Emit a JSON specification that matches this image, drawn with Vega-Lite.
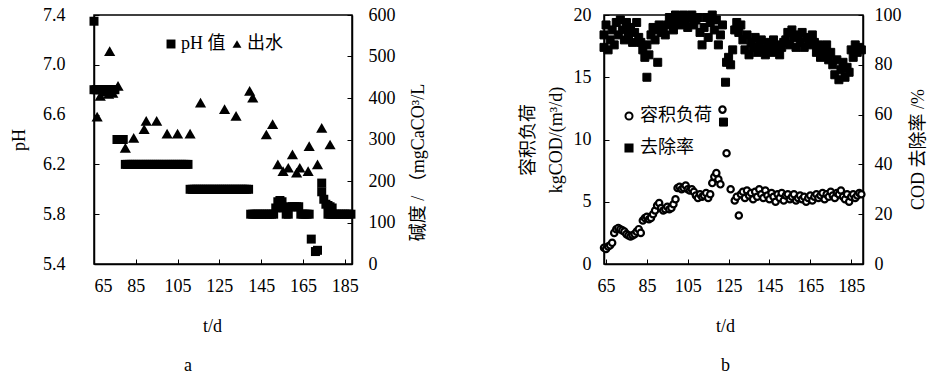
{
  "$schema": "https://vega.github.io/schema/vega-lite/v6.json",
  "background": "white",
  "padding": {"left": 9, "top": 5, "right": 0, "bottom": 0},
  "spacing": 90,
  "resolve": {"scale": {"shape": "independent", "fill": "independent"}, "legend": {"shape": "independent", "fill": "independent"}},
  "config": {
    "font": "Liberation Serif, Noto Sans CJK SC",
    "view": {"stroke": "black", "strokeWidth": 1.5},
    "axis": {
      "grid": false,
      "domainColor": "black",
      "domainWidth": 1.5,
      "tickColor": "black",
      "tickSize": -5,
      "tickWidth": 1,
      "labelFont": "Liberation Serif",
      "labelFontSize": 18,
      "labelColor": "black",
      "titleFont": "Liberation Serif, Noto Sans CJK SC",
      "titleFontSize": 18,
      "titleFontWeight": "normal",
      "titleColor": "black"
    },
    "legend": {
      "labelFont": "Liberation Serif, Noto Sans CJK SC",
      "labelFontSize": 18,
      "labelColor": "black"
    },
    "title": {"font": "Liberation Serif", "fontSize": 18, "fontWeight": "normal", "color": "black"}
  },
  "datasets": {
    "ph": [
      {"t": 65, "v": 7.35, "s": "pH 值"},
      {"t": 65, "v": 6.8, "s": "pH 值"}, {"t": 66, "v": 6.8, "s": "pH 值"}, {"t": 67, "v": 6.8, "s": "pH 值"}, {"t": 68, "v": 6.8, "s": "pH 值"}, {"t": 69, "v": 6.8, "s": "pH 值"}, {"t": 70, "v": 6.8, "s": "pH 值"}, {"t": 71, "v": 6.8, "s": "pH 值"}, {"t": 72, "v": 6.8, "s": "pH 值"}, {"t": 73, "v": 6.8, "s": "pH 值"}, {"t": 74, "v": 6.8, "s": "pH 值"}, {"t": 75, "v": 6.8, "s": "pH 值"},
      {"t": 76, "v": 6.4, "s": "pH 值"}, {"t": 77, "v": 6.4, "s": "pH 值"}, {"t": 78, "v": 6.4, "s": "pH 值"}, {"t": 79, "v": 6.4, "s": "pH 值"},
      {"t": 80, "v": 6.2, "s": "pH 值"}, {"t": 81, "v": 6.2, "s": "pH 值"}, {"t": 82, "v": 6.2, "s": "pH 值"}, {"t": 83, "v": 6.2, "s": "pH 值"}, {"t": 84, "v": 6.2, "s": "pH 值"}, {"t": 85, "v": 6.2, "s": "pH 值"}, {"t": 86, "v": 6.2, "s": "pH 值"}, {"t": 87, "v": 6.2, "s": "pH 值"}, {"t": 88, "v": 6.2, "s": "pH 值"}, {"t": 89, "v": 6.2, "s": "pH 值"}, {"t": 90, "v": 6.2, "s": "pH 值"}, {"t": 91, "v": 6.2, "s": "pH 值"}, {"t": 92, "v": 6.2, "s": "pH 值"}, {"t": 93, "v": 6.2, "s": "pH 值"}, {"t": 94, "v": 6.2, "s": "pH 值"}, {"t": 95, "v": 6.2, "s": "pH 值"}, {"t": 96, "v": 6.2, "s": "pH 值"}, {"t": 97, "v": 6.2, "s": "pH 值"}, {"t": 98, "v": 6.2, "s": "pH 值"}, {"t": 99, "v": 6.2, "s": "pH 值"}, {"t": 100, "v": 6.2, "s": "pH 值"}, {"t": 101, "v": 6.2, "s": "pH 值"}, {"t": 102, "v": 6.2, "s": "pH 值"}, {"t": 103, "v": 6.2, "s": "pH 值"}, {"t": 104, "v": 6.2, "s": "pH 值"}, {"t": 105, "v": 6.2, "s": "pH 值"}, {"t": 106, "v": 6.2, "s": "pH 值"}, {"t": 107, "v": 6.2, "s": "pH 值"}, {"t": 108, "v": 6.2, "s": "pH 值"}, {"t": 109, "v": 6.2, "s": "pH 值"}, {"t": 110, "v": 6.2, "s": "pH 值"},
      {"t": 111, "v": 6.0, "s": "pH 值"}, {"t": 112, "v": 6.0, "s": "pH 值"}, {"t": 113, "v": 6.0, "s": "pH 值"}, {"t": 114, "v": 6.0, "s": "pH 值"}, {"t": 115, "v": 6.0, "s": "pH 值"}, {"t": 116, "v": 6.0, "s": "pH 值"}, {"t": 117, "v": 6.0, "s": "pH 值"}, {"t": 118, "v": 6.0, "s": "pH 值"}, {"t": 119, "v": 6.0, "s": "pH 值"}, {"t": 120, "v": 6.0, "s": "pH 值"}, {"t": 121, "v": 6.0, "s": "pH 值"}, {"t": 122, "v": 6.0, "s": "pH 值"}, {"t": 123, "v": 6.0, "s": "pH 值"}, {"t": 124, "v": 6.0, "s": "pH 值"}, {"t": 125, "v": 6.0, "s": "pH 值"}, {"t": 126, "v": 6.0, "s": "pH 值"}, {"t": 127, "v": 6.0, "s": "pH 值"}, {"t": 128, "v": 6.0, "s": "pH 值"}, {"t": 129, "v": 6.0, "s": "pH 值"}, {"t": 130, "v": 6.0, "s": "pH 值"}, {"t": 131, "v": 6.0, "s": "pH 值"}, {"t": 132, "v": 6.0, "s": "pH 值"}, {"t": 133, "v": 6.0, "s": "pH 值"}, {"t": 134, "v": 6.0, "s": "pH 值"}, {"t": 135, "v": 6.0, "s": "pH 值"}, {"t": 136, "v": 6.0, "s": "pH 值"}, {"t": 137, "v": 6.0, "s": "pH 值"}, {"t": 138, "v": 6.0, "s": "pH 值"}, {"t": 139, "v": 6.0, "s": "pH 值"},
      {"t": 140, "v": 5.8, "s": "pH 值"}, {"t": 141, "v": 5.8, "s": "pH 值"}, {"t": 142, "v": 5.8, "s": "pH 值"}, {"t": 143, "v": 5.8, "s": "pH 值"}, {"t": 144, "v": 5.8, "s": "pH 值"}, {"t": 145, "v": 5.8, "s": "pH 值"}, {"t": 146, "v": 5.8, "s": "pH 值"}, {"t": 147, "v": 5.8, "s": "pH 值"}, {"t": 148, "v": 5.8, "s": "pH 值"}, {"t": 149, "v": 5.8, "s": "pH 值"}, {"t": 150, "v": 5.8, "s": "pH 值"}, {"t": 151, "v": 5.8, "s": "pH 值"}, {"t": 152, "v": 5.85, "s": "pH 值"}, {"t": 153, "v": 5.9, "s": "pH 值"}, {"t": 154, "v": 5.91, "s": "pH 值"}, {"t": 155, "v": 5.9, "s": "pH 值"}, {"t": 156, "v": 5.85, "s": "pH 值"}, {"t": 157, "v": 5.8, "s": "pH 值"}, {"t": 158, "v": 5.8, "s": "pH 值"}, {"t": 159, "v": 5.86, "s": "pH 值"}, {"t": 160, "v": 5.86, "s": "pH 值"}, {"t": 161, "v": 5.86, "s": "pH 值"}, {"t": 162, "v": 5.86, "s": "pH 值"}, {"t": 163, "v": 5.86, "s": "pH 值"}, {"t": 164, "v": 5.8, "s": "pH 值"}, {"t": 165, "v": 5.8, "s": "pH 值"}, {"t": 166, "v": 5.8, "s": "pH 值"}, {"t": 167, "v": 5.8, "s": "pH 值"}, {"t": 168, "v": 5.8, "s": "pH 值"},
      {"t": 169, "v": 5.6, "s": "pH 值"}, {"t": 171, "v": 5.5, "s": "pH 值"}, {"t": 172, "v": 5.51, "s": "pH 值"},
      {"t": 174, "v": 6.05, "s": "pH 值"}, {"t": 174, "v": 5.98, "s": "pH 值"}, {"t": 175, "v": 5.92, "s": "pH 值"}, {"t": 176, "v": 5.88, "s": "pH 值"}, {"t": 177, "v": 5.87, "s": "pH 值"}, {"t": 178, "v": 5.86, "s": "pH 值"}, {"t": 179, "v": 5.85, "s": "pH 值"},
      {"t": 177, "v": 5.8, "s": "pH 值"}, {"t": 178, "v": 5.8, "s": "pH 值"}, {"t": 179, "v": 5.8, "s": "pH 值"}, {"t": 180, "v": 5.8, "s": "pH 值"}, {"t": 181, "v": 5.8, "s": "pH 值"}, {"t": 182, "v": 5.8, "s": "pH 值"}, {"t": 183, "v": 5.8, "s": "pH 值"}, {"t": 184, "v": 5.8, "s": "pH 值"}, {"t": 185, "v": 5.8, "s": "pH 值"}, {"t": 186, "v": 5.8, "s": "pH 值"}, {"t": 187, "v": 5.8, "s": "pH 值"}, {"t": 188, "v": 5.8, "s": "pH 值"}
    ],
    "alk": [
      {"t": 66.5, "v": 355, "s": "出水"}, {"t": 68, "v": 405, "s": "出水"}, {"t": 70, "v": 415, "s": "出水"}, {"t": 72, "v": 410, "s": "出水"}, {"t": 72.5, "v": 513, "s": "出水"}, {"t": 74, "v": 412, "s": "出水"}, {"t": 76.5, "v": 429, "s": "出水"},
      {"t": 80, "v": 280, "s": "出水"}, {"t": 84, "v": 304, "s": "出水"}, {"t": 89, "v": 325, "s": "出水"}, {"t": 90, "v": 345, "s": "出水"}, {"t": 95, "v": 345, "s": "出水"}, {"t": 100, "v": 314, "s": "出水"}, {"t": 105, "v": 314, "s": "出水"}, {"t": 111, "v": 314, "s": "出水"},
      {"t": 116, "v": 389, "s": "出水"}, {"t": 127.5, "v": 373, "s": "出水"}, {"t": 133, "v": 357, "s": "出水"}, {"t": 139.5, "v": 417, "s": "出水"}, {"t": 141, "v": 401, "s": "出水"}, {"t": 147.5, "v": 312, "s": "出水"}, {"t": 150.5, "v": 337, "s": "出水"},
      {"t": 153, "v": 240, "s": "出水"}, {"t": 155.5, "v": 224, "s": "出水"}, {"t": 158, "v": 232, "s": "出水"}, {"t": 160, "v": 264, "s": "出水"}, {"t": 162, "v": 220, "s": "出水"}, {"t": 163.5, "v": 232, "s": "出水"}, {"t": 167.5, "v": 224, "s": "出水"}, {"t": 168, "v": 284, "s": "出水"}, {"t": 172, "v": 240, "s": "出水"}, {"t": 174, "v": 328, "s": "出水"}, {"t": 178, "v": 288, "s": "出水"}
    ],
    "load": [
      {"t": 64, "v": 1.3, "s": "容积负荷"}, {"t": 65, "v": 1.2, "s": "容积负荷"}, {"t": 66, "v": 1.4, "s": "容积负荷"}, {"t": 67, "v": 1.5, "s": "容积负荷"}, {"t": 68, "v": 1.7, "s": "容积负荷"}, {"t": 69, "v": 2.5, "s": "容积负荷"}, {"t": 70, "v": 2.8, "s": "容积负荷"}, {"t": 71, "v": 2.9, "s": "容积负荷"}, {"t": 72, "v": 2.8, "s": "容积负荷"}, {"t": 73, "v": 2.7, "s": "容积负荷"}, {"t": 74, "v": 2.6, "s": "容积负荷"}, {"t": 75, "v": 2.4, "s": "容积负荷"}, {"t": 76, "v": 2.3, "s": "容积负荷"}, {"t": 77, "v": 2.2, "s": "容积负荷"}, {"t": 78, "v": 2.3, "s": "容积负荷"}, {"t": 79, "v": 2.4, "s": "容积负荷"}, {"t": 80, "v": 2.6, "s": "容积负荷"}, {"t": 81, "v": 2.8, "s": "容积负荷"}, {"t": 82, "v": 2.5, "s": "容积负荷"},
      {"t": 83, "v": 3.5, "s": "容积负荷"}, {"t": 84, "v": 3.7, "s": "容积负荷"}, {"t": 85, "v": 3.8, "s": "容积负荷"}, {"t": 86, "v": 3.6, "s": "容积负荷"}, {"t": 87, "v": 3.7, "s": "容积负荷"}, {"t": 88, "v": 4.0, "s": "容积负荷"}, {"t": 89, "v": 4.3, "s": "容积负荷"}, {"t": 90, "v": 4.7, "s": "容积负荷"}, {"t": 91, "v": 4.9, "s": "容积负荷"}, {"t": 92, "v": 4.5, "s": "容积负荷"}, {"t": 93, "v": 4.3, "s": "容积负荷"}, {"t": 94, "v": 4.4, "s": "容积负荷"}, {"t": 95, "v": 4.6, "s": "容积负荷"}, {"t": 96, "v": 4.4, "s": "容积负荷"}, {"t": 97, "v": 4.5, "s": "容积负荷"}, {"t": 98, "v": 4.8, "s": "容积负荷"}, {"t": 99, "v": 5.2, "s": "容积负荷"},
      {"t": 100, "v": 6.1, "s": "容积负荷"}, {"t": 101, "v": 6.2, "s": "容积负荷"}, {"t": 102, "v": 6.0, "s": "容积负荷"}, {"t": 103, "v": 6.1, "s": "容积负荷"}, {"t": 104, "v": 6.3, "s": "容积负荷"}, {"t": 105, "v": 6.0, "s": "容积负荷"}, {"t": 106, "v": 5.9, "s": "容积负荷"}, {"t": 107, "v": 6.0, "s": "容积负荷"}, {"t": 108, "v": 5.8, "s": "容积负荷"}, {"t": 109, "v": 5.5, "s": "容积负荷"}, {"t": 110, "v": 5.3, "s": "容积负荷"}, {"t": 111, "v": 5.6, "s": "容积负荷"}, {"t": 112, "v": 5.4, "s": "容积负荷"}, {"t": 113, "v": 5.5, "s": "容积负荷"}, {"t": 114, "v": 5.7, "s": "容积负荷"}, {"t": 115, "v": 5.3, "s": "容积负荷"}, {"t": 116, "v": 5.6, "s": "容积负荷"}, {"t": 117, "v": 6.5, "s": "容积负荷"}, {"t": 118, "v": 7.0, "s": "容积负荷"}, {"t": 119, "v": 7.3, "s": "容积负荷"}, {"t": 120, "v": 6.8, "s": "容积负荷"}, {"t": 121, "v": 6.4, "s": "容积负荷"},
      {"t": 122, "v": 12.4, "s": "容积负荷"}, {"t": 124, "v": 8.9, "s": "容积负荷"}, {"t": 126, "v": 6.0, "s": "容积负荷"}, {"t": 128, "v": 5.1, "s": "容积负荷"}, {"t": 129, "v": 5.4, "s": "容积负荷"}, {"t": 130, "v": 3.9, "s": "容积负荷"},
      {"t": 131, "v": 5.6, "s": "容积负荷"}, {"t": 132, "v": 5.8, "s": "容积负荷"}, {"t": 133, "v": 5.3, "s": "容积负荷"}, {"t": 134, "v": 5.9, "s": "容积负荷"}, {"t": 135, "v": 5.5, "s": "容积负荷"}, {"t": 136, "v": 5.7, "s": "容积负荷"}, {"t": 137, "v": 5.2, "s": "容积负荷"}, {"t": 138, "v": 5.8, "s": "容积负荷"}, {"t": 139, "v": 5.4, "s": "容积负荷"}, {"t": 140, "v": 6.0, "s": "容积负荷"}, {"t": 141, "v": 5.6, "s": "容积负荷"}, {"t": 142, "v": 5.3, "s": "容积负荷"}, {"t": 143, "v": 5.9, "s": "容积负荷"}, {"t": 144, "v": 5.5, "s": "容积负荷"}, {"t": 145, "v": 5.2, "s": "容积负荷"}, {"t": 146, "v": 5.7, "s": "容积负荷"}, {"t": 147, "v": 5.4, "s": "容积负荷"}, {"t": 148, "v": 5.0, "s": "容积负荷"}, {"t": 149, "v": 5.6, "s": "容积负荷"}, {"t": 150, "v": 5.3, "s": "容积负荷"}, {"t": 151, "v": 5.7, "s": "容积负荷"}, {"t": 152, "v": 5.1, "s": "容积负荷"}, {"t": 153, "v": 5.5, "s": "容积负荷"}, {"t": 154, "v": 5.6, "s": "容积负荷"}, {"t": 155, "v": 5.2, "s": "容积负荷"}, {"t": 156, "v": 5.4, "s": "容积负荷"}, {"t": 157, "v": 5.6, "s": "容积负荷"}, {"t": 158, "v": 5.1, "s": "容积负荷"}, {"t": 159, "v": 5.3, "s": "容积负荷"}, {"t": 160, "v": 5.5, "s": "容积负荷"}, {"t": 161, "v": 5.2, "s": "容积负荷"}, {"t": 162, "v": 5.4, "s": "容积负荷"}, {"t": 163, "v": 5.0, "s": "容积负荷"}, {"t": 164, "v": 5.3, "s": "容积负荷"}, {"t": 165, "v": 5.5, "s": "容积负荷"}, {"t": 166, "v": 5.1, "s": "容积负荷"}, {"t": 167, "v": 5.4, "s": "容积负荷"}, {"t": 168, "v": 5.6, "s": "容积负荷"}, {"t": 169, "v": 5.3, "s": "容积负荷"}, {"t": 170, "v": 5.5, "s": "容积负荷"}, {"t": 171, "v": 5.7, "s": "容积负荷"}, {"t": 172, "v": 5.2, "s": "容积负荷"}, {"t": 173, "v": 5.6, "s": "容积负荷"}, {"t": 174, "v": 5.4, "s": "容积负荷"}, {"t": 175, "v": 5.8, "s": "容积负荷"}, {"t": 176, "v": 5.5, "s": "容积负荷"}, {"t": 177, "v": 5.3, "s": "容积负荷"}, {"t": 178, "v": 5.7, "s": "容积负荷"}, {"t": 179, "v": 5.6, "s": "容积负荷"}, {"t": 180, "v": 5.9, "s": "容积负荷"}, {"t": 181, "v": 5.4, "s": "容积负荷"}, {"t": 182, "v": 5.2, "s": "容积负荷"}, {"t": 183, "v": 5.6, "s": "容积负荷"}, {"t": 184, "v": 5.0, "s": "容积负荷"}, {"t": 185, "v": 5.4, "s": "容积负荷"}, {"t": 186, "v": 5.6, "s": "容积负荷"}, {"t": 187, "v": 5.3, "s": "容积负荷"}, {"t": 188, "v": 5.5, "s": "容积负荷"}, {"t": 189, "v": 5.7, "s": "容积负荷"}, {"t": 190, "v": 5.6, "s": "容积负荷"}
    ],
    "rem": [
      {"t": 64, "v": 92, "s": "去除率"}, {"t": 64, "v": 87, "s": "去除率"}, {"t": 65, "v": 96, "s": "去除率"}, {"t": 66, "v": 86, "s": "去除率"}, {"t": 67, "v": 90, "s": "去除率"}, {"t": 68, "v": 94, "s": "去除率"}, {"t": 69, "v": 88, "s": "去除率"}, {"t": 70, "v": 97, "s": "去除率"}, {"t": 71, "v": 92, "s": "去除率"},
      {"t": 72, "v": 98, "s": "去除率"}, {"t": 73, "v": 94, "s": "去除率"}, {"t": 74, "v": 90, "s": "去除率"}, {"t": 75, "v": 97, "s": "去除率"}, {"t": 76, "v": 92, "s": "去除率"}, {"t": 77, "v": 95, "s": "去除率"}, {"t": 78, "v": 89, "s": "去除率"}, {"t": 79, "v": 93, "s": "去除率"}, {"t": 80, "v": 97, "s": "去除率"}, {"t": 81, "v": 91, "s": "去除率"},
      {"t": 82, "v": 89, "s": "去除率"}, {"t": 83, "v": 86, "s": "去除率"}, {"t": 84, "v": 83, "s": "去除率"}, {"t": 85, "v": 88, "s": "去除率"}, {"t": 86, "v": 84, "s": "去除率"}, {"t": 85, "v": 75, "s": "去除率"}, {"t": 90.3, "v": 81, "s": "去除率"},
      {"t": 87, "v": 92, "s": "去除率"}, {"t": 88, "v": 95, "s": "去除率"}, {"t": 89, "v": 90, "s": "去除率"}, {"t": 90, "v": 94, "s": "去除率"}, {"t": 91, "v": 96, "s": "去除率"}, {"t": 92, "v": 93, "s": "去除率"}, {"t": 93, "v": 95, "s": "去除率"}, {"t": 94, "v": 92, "s": "去除率"}, {"t": 95, "v": 96, "s": "去除率"}, {"t": 96, "v": 99, "s": "去除率"}, {"t": 97, "v": 97, "s": "去除率"}, {"t": 98, "v": 94, "s": "去除率"}, {"t": 99, "v": 100, "s": "去除率"}, {"t": 100, "v": 98, "s": "去除率"}, {"t": 101, "v": 96, "s": "去除率"}, {"t": 102, "v": 99, "s": "去除率"}, {"t": 103, "v": 100, "s": "去除率"}, {"t": 104, "v": 97, "s": "去除率"}, {"t": 105, "v": 95, "s": "去除率"}, {"t": 106, "v": 99, "s": "去除率"}, {"t": 107, "v": 100, "s": "去除率"}, {"t": 108, "v": 96, "s": "去除率"}, {"t": 109, "v": 98, "s": "去除率"}, {"t": 110, "v": 99, "s": "去除率"},
      {"t": 111, "v": 93, "s": "去除率"}, {"t": 112, "v": 88, "s": "去除率"}, {"t": 113, "v": 95, "s": "去除率"}, {"t": 114, "v": 99, "s": "去除率"}, {"t": 115, "v": 91, "s": "去除率"}, {"t": 116, "v": 97, "s": "去除率"}, {"t": 117, "v": 100, "s": "去除率"}, {"t": 118, "v": 94, "s": "去除率"}, {"t": 119, "v": 98, "s": "去除率"}, {"t": 120, "v": 88, "s": "去除率"}, {"t": 121, "v": 92, "s": "去除率"}, {"t": 122, "v": 96, "s": "去除率"},
      {"t": 122.5, "v": 57, "s": "去除率"}, {"t": 123.5, "v": 73, "s": "去除率"}, {"t": 124, "v": 81, "s": "去除率"}, {"t": 125, "v": 83, "s": "去除率"}, {"t": 126, "v": 80, "s": "去除率"}, {"t": 127, "v": 86, "s": "去除率"},
      {"t": 128, "v": 94, "s": "去除率"}, {"t": 129, "v": 97, "s": "去除率"}, {"t": 130, "v": 93, "s": "去除率"}, {"t": 131, "v": 96, "s": "去除率"},
      {"t": 132, "v": 90, "s": "去除率"}, {"t": 133, "v": 86, "s": "去除率"}, {"t": 134, "v": 92, "s": "去除率"}, {"t": 135, "v": 84, "s": "去除率"}, {"t": 136, "v": 89, "s": "去除率"}, {"t": 137, "v": 87, "s": "去除率"}, {"t": 138, "v": 91, "s": "去除率"}, {"t": 139, "v": 85, "s": "去除率"}, {"t": 140, "v": 88, "s": "去除率"}, {"t": 141, "v": 90, "s": "去除率"}, {"t": 142, "v": 86, "s": "去除率"},
      {"t": 143, "v": 84, "s": "去除率"}, {"t": 144, "v": 89, "s": "去除率"}, {"t": 145, "v": 87, "s": "去除率"}, {"t": 146, "v": 85, "s": "去除率"}, {"t": 147, "v": 90, "s": "去除率"}, {"t": 148, "v": 86, "s": "去除率"}, {"t": 149, "v": 88, "s": "去除率"}, {"t": 150, "v": 84, "s": "去除率"}, {"t": 151, "v": 87, "s": "去除率"}, {"t": 152, "v": 89, "s": "去除率"},
      {"t": 153, "v": 90, "s": "去除率"}, {"t": 154, "v": 93, "s": "去除率"}, {"t": 155, "v": 88, "s": "去除率"}, {"t": 156, "v": 94, "s": "去除率"}, {"t": 157, "v": 91, "s": "去除率"}, {"t": 158, "v": 87, "s": "去除率"}, {"t": 159, "v": 92, "s": "去除率"}, {"t": 160, "v": 89, "s": "去除率"}, {"t": 161, "v": 93, "s": "去除率"}, {"t": 162, "v": 87, "s": "去除率"}, {"t": 163, "v": 91, "s": "去除率"}, {"t": 164, "v": 90, "s": "去除率"}, {"t": 165, "v": 88, "s": "去除率"}, {"t": 166, "v": 92, "s": "去除率"}, {"t": 167, "v": 89, "s": "去除率"},
      {"t": 168, "v": 85, "s": "去除率"}, {"t": 169, "v": 88, "s": "去除率"}, {"t": 170, "v": 83, "s": "去除率"}, {"t": 171, "v": 86, "s": "去除率"}, {"t": 172, "v": 84, "s": "去除率"}, {"t": 173, "v": 88, "s": "去除率"}, {"t": 174, "v": 82, "s": "去除率"}, {"t": 175, "v": 85, "s": "去除率"},
      {"t": 176, "v": 80, "s": "去除率"}, {"t": 177, "v": 76, "s": "去除率"}, {"t": 178, "v": 82, "s": "去除率"}, {"t": 179, "v": 74, "s": "去除率"}, {"t": 180, "v": 78, "s": "去除率"}, {"t": 181, "v": 81, "s": "去除率"}, {"t": 182, "v": 75, "s": "去除率"}, {"t": 183, "v": 79, "s": "去除率"}, {"t": 184, "v": 77, "s": "去除率"},
      {"t": 185, "v": 86, "s": "去除率"}, {"t": 186, "v": 83, "s": "去除率"}, {"t": 187, "v": 88, "s": "去除率"}, {"t": 188, "v": 85, "s": "去除率"}, {"t": 189, "v": 87, "s": "去除率"}, {"t": 190, "v": 86, "s": "去除率"}
    ]
  },
  "hconcat": [
    {
      "width": 258,
      "height": 249,
      "title": {"text": "a", "orient": "bottom", "frame": "group", "anchor": "middle", "dx": -35, "offset": 22},
      "layer": [
        {
          "data": {"name": "ph"},
          "mark": {"type": "point", "filled": true, "opacity": 1, "size": 81, "clip": false},
          "encoding": {
            "x": {"field": "t", "type": "quantitative", "scale": {"domain": [65, 188.5], "nice": false, "zero": false},
                  "axis": {"values": [65, 85, 105, 125, 145, 165, 185], "title": "t/d", "titleX": 118, "labelPadding": 18, "titlePadding": 22}},
            "y": {"field": "v", "type": "quantitative", "scale": {"domain": [5.4, 7.4], "nice": false, "zero": false},
                  "axis": {"values": [5.4, 5.8, 6.2, 6.6, 7.0, 7.4], "format": ".1f", "title": "pH", "labelPadding": 34, "titlePadding": 14}},
            "shape": {"field": "s", "type": "nominal", "scale": {"domain": ["pH 值", "出水"], "range": ["square", "triangle-up"]},
                      "legend": {"title": null, "orient": "none", "legendX": 68, "legendY": 20, "direction": "horizontal", "columnPadding": 2, "labelOffset": 1, "symbolSize": 80, "symbolFillColor": "black", "symbolStrokeColor": "black"}},
            "color": {"value": "black"}
          }
        },
        {
          "data": {"name": "alk"},
          "mark": {"type": "point", "filled": true, "opacity": 1, "size": 125, "clip": false},
          "encoding": {
            "x": {"field": "t", "type": "quantitative"},
            "y": {"field": "v", "type": "quantitative", "scale": {"domain": [0, 600], "nice": false},
                  "axis": {"orient": "right", "values": [0, 100, 200, 300, 400, 500, 600], "title": "碱度 / （mgCaCO³/L", "titleAngle": 270, "titleY": 147, "labelPadding": 21, "titlePadding": 32}},
            "shape": {"field": "s", "type": "nominal"},
            "color": {"value": "black"}
          }
        }
      ],
      "resolve": {"scale": {"y": "independent"}}
    },
    {
      "width": 259,
      "height": 249,
      "title": {"text": "b", "orient": "bottom", "frame": "group", "anchor": "middle", "dx": -8, "offset": 22},
      "layer": [
        {
          "data": {"name": "load"},
          "mark": {"type": "point", "opacity": 1, "size": 40, "strokeWidth": 2.2, "clip": false},
          "encoding": {
            "x": {"field": "t", "type": "quantitative", "scale": {"domain": [64, 190.8], "nice": false, "zero": false},
                  "axis": {"values": [65, 85, 105, 125, 145, 165, 185], "title": "t/d", "titleX": 121, "labelPadding": 18, "titlePadding": 22}},
            "y": {"field": "v", "type": "quantitative", "scale": {"domain": [0, 20], "nice": false},
                  "axis": {"values": [0, 5, 10, 15, 20], "title": ["容积负荷", "kgCOD/(m³/d)"], "titleLineHeight": 28, "labelPadding": 18, "titlePadding": 8}},
            "shape": {"field": "s", "type": "nominal", "scale": {"domain": ["容积负荷", "去除率"], "range": ["circle", "square"]},
                      "legend": {"title": null, "orient": "none", "legendX": 16, "legendY": 92, "rowPadding": 14, "labelOffset": 2, "symbolSize": 50, "symbolStrokeWidth": 2}},
            "fill": {"field": "s", "type": "nominal", "scale": {"domain": ["容积负荷", "去除率"], "range": ["white", "black"]}, "legend": {"title": null, "orient": "none", "legendX": 16, "legendY": 92, "rowPadding": 14, "labelOffset": 2, "symbolSize": 50, "symbolStrokeWidth": 2}},
            "stroke": {"value": "black"}
          }
        },
        {
          "data": {"name": "rem"},
          "mark": {"type": "point", "opacity": 1, "size": 64, "strokeWidth": 1, "clip": false},
          "encoding": {
            "x": {"field": "t", "type": "quantitative"},
            "y": {"field": "v", "type": "quantitative", "scale": {"domain": [0, 100], "nice": false},
                  "axis": {"orient": "right", "values": [0, 20, 40, 60, 80, 100], "title": "COD 去除率 /%", "titleAngle": 270, "titleY": 134, "labelPadding": 16, "titlePadding": 26}},
            "shape": {"field": "s", "type": "nominal"},
            "fill": {"field": "s", "type": "nominal"},
            "stroke": {"value": "black"}
          }
        }
      ],
      "resolve": {"scale": {"y": "independent"}}
    }
  ]
}
